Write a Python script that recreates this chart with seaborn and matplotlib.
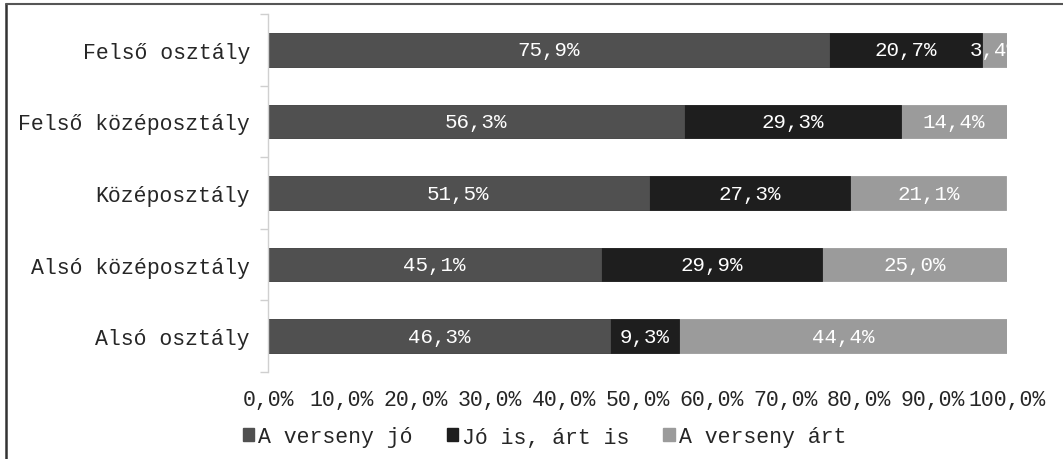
import matplotlib
matplotlib.use('Agg')

import matplotlib.pyplot as plt
import matplotlib.ticker as mticker
import seaborn as sns
import pandas as pd
import numpy as np
from matplotlib.lines import Line2D
from matplotlib.patches import Patch

categories = ["Felső osztály", "Felső középosztály", "Középosztály",
              "Alsó középosztály", "Alsó osztály"]
series_names = ["A verseny jó", "Jó is, árt is", "A verseny árt"]
jo = [75.9, 56.3, 51.5, 45.1, 46.3]
jo_art = [20.7, 29.3, 27.3, 29.9, 9.3]
art = [3.4, 14.4, 21.1, 25.0, 44.4]
colors = ["#505050", "#1e1e1e", "#9b9b9b"]
x_ticks = [0, 10, 20, 30, 40, 50, 60, 70, 80, 90, 100]

sns.set_style("white")
plt.rcParams['font.family'] = ['Liberation Mono', 'DejaVu Sans Mono']

df = pd.DataFrame({"cat": categories, "jo": jo, "jo_art": jo_art, "art": art})
df["c1"] = df["jo"]
df["c2"] = df["jo"] + df["jo_art"]
df["c3"] = df["c2"] + df["art"]

fig = plt.figure(figsize=(10.63, 4.6), dpi=100)
ax = fig.add_axes([268 / 1063, 1 - 373 / 460, (1007 - 268) / 1063, (373 - 15) / 460])

# stacked by overdrawing cumulative totals
for col, c in zip(["c3", "c2", "c1"], colors[::-1]):
    sns.barplot(data=df, y="cat", x=col, orient="h", color=c, width=0.47,
                saturation=1, ax=ax, edgecolor=c, linewidth=0.6)

# value labels
starts = [np.zeros(5), df["c1"].values, df["c2"].values]
for vals, st in zip([jo, jo_art, art], starts):
    for i, (v, s) in enumerate(zip(vals, st)):
        ax.text(s + v / 2, i, f"{v:.1f}%".replace(".", ","), color="white",
                ha="center", va="center", fontsize=15)

ax.set_xlim(0, 100)
ax.set_ylim(4.5, -0.5)
ax.set_xlabel("")
ax.set_ylabel("")
ax.set_xticks(x_ticks)
ax.xaxis.set_major_formatter(mticker.FuncFormatter(lambda v, p: f"{v:.1f}%".replace(".", ",")))
ax.tick_params(axis="x", length=0, pad=12, labelsize=15.5, colors="#262626")
ax.tick_params(axis="y", which="major", length=0, pad=13, labelsize=15.5, colors="#262626")
ax.set_yticks(np.arange(-0.5, 5, 1), minor=True)
ax.tick_params(axis="y", which="minor", left=True, length=6, color="#cfcfcf", width=1)
for s in ["top", "right", "bottom"]:
    ax.spines[s].set_visible(False)
ax.spines["left"].set_color("#d0d0d0")
ax.spines["left"].set_linewidth(1)

handles = [Patch(facecolor=c, edgecolor=c) for c in colors]
fig.legend(handles, series_names, loc="center", bbox_to_anchor=(0.512, 1 - 438 / 460),
           ncol=3, frameon=False, fontsize=15.5, handlelength=0.55, handleheight=0.55,
           handletextpad=0.15, columnspacing=1.6, labelcolor="#262626")

# border on left and top
fig.add_artist(Line2D([6 / 1063, 6 / 1063], [0, 1 - 5 / 460], transform=fig.transFigure,
                      color="#333333", lw=1.8))
fig.add_artist(Line2D([6 / 1063, 1], [1 - 5 / 460, 1 - 5 / 460], transform=fig.transFigure,
                      color="#555555", lw=1.5))

fig.savefig("out.png", dpi=100)
plt.close()
